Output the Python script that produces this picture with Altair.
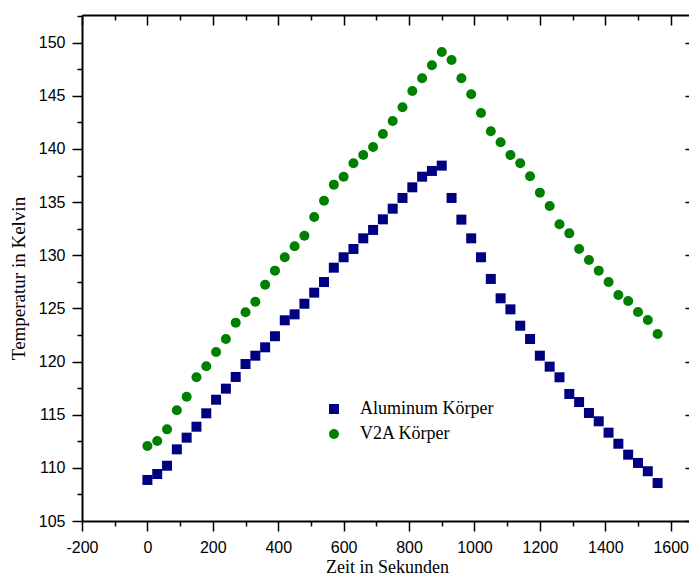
import altair as alt
import pandas as pd

# ---- data ----
times = [0, 30, 60, 90, 120, 150, 180, 210, 240, 270, 300, 330, 360, 390, 420,
         450, 480, 510, 540, 570, 600, 630, 660, 690, 720, 750, 780, 810, 840,
         870, 900, 930, 960, 990, 1020, 1050, 1080, 1110, 1140, 1170, 1200,
         1230, 1260, 1290, 1320, 1350, 1380, 1410, 1440, 1470, 1500, 1530, 1560]

alu = [108.86, 109.42, 110.20, 111.74, 112.84, 113.87, 115.13, 116.41, 117.45,
       118.55, 119.77, 120.55, 121.34, 122.38, 123.88, 124.44, 125.44, 126.48,
       127.48, 128.83, 129.81, 130.59, 131.59, 132.38, 133.38, 134.38, 135.39,
       136.39, 137.39, 137.93, 138.43, 135.39, 133.35, 131.59, 129.81, 127.77,
       125.95, 124.91, 123.37, 122.12, 120.55, 119.52, 118.52, 116.95, 116.19,
       115.16, 114.38, 113.31, 112.27, 111.24, 110.46, 109.68, 108.57]

v2a = [112.06, 112.53, 113.62, 115.41, 116.69, 118.52, 119.55, 120.90, 122.12,
       123.66, 124.63, 125.63, 127.23, 128.55, 129.81, 130.84, 131.84, 133.60,
       135.13, 136.64, 137.39, 138.65, 139.43, 140.18, 141.41, 142.63, 143.92,
       145.45, 146.65, 147.87, 149.12, 148.37, 146.65, 145.14, 143.38, 141.66,
       140.63, 139.43, 138.65, 137.43, 135.89, 134.63, 132.91, 132.06, 130.59,
       129.55, 128.55, 127.48, 126.26, 125.70, 124.66, 123.91, 122.59]

series_names = ["Aluminum Körper", "V2A Körper"]
series_colors = ["#000080", "#008000"]
series_shapes = ["square", "circle"]

x_major = [-200, 0, 200, 400, 600, 800, 1000, 1200, 1400, 1600]
x_minor = [-100, 100, 300, 500, 700, 900, 1100, 1300, 1500]
y_major = [105, 110, 115, 120, 125, 130, 135, 140, 145, 150]
y_minor = [107.5, 112.5, 117.5, 122.5, 127.5, 132.5, 137.5, 142.5, 147.5, 152.5]

df = pd.DataFrame({
    "t": times + times,
    "T": alu + v2a,
    "series": [series_names[0]] * len(times) + [series_names[1]] * len(times),
})

xs = alt.Scale(domain=[-200, 1656], nice=False, zero=False)
ys = alt.Scale(domain=[105, 152.6], nice=False, zero=False)

SANS = "Liberation Sans"
SERIF = "Liberation Serif"

base = alt.Chart(df)

legend = alt.Legend(
    orient="none", legendX=243, legendY=385, title=None,
    labelFont=SERIF, labelFontSize=18, labelColor="black",
    symbolSize=100, labelOffset=17, rowPadding=7, padding=0,
    symbolStrokeWidth=0,
)

points = base.mark_point(filled=True, size=100, opacity=1).encode(
    x=alt.X("t:Q", scale=xs, axis=alt.Axis(
        orient="bottom", values=x_major, tickSize=10, tickWidth=1.5,
        tickColor="black", domainColor="black", domainWidth=2,
        labelFont=SANS, labelFontSize=16, labelColor="black", labelPadding=8,
        labelFlush=False, labelOverlap=False, labelExpr="'' + datum.value",
        grid=False, title="Zeit in Sekunden", titleFont=SERIF,
        titleFontSize=18, titleFontWeight="normal", titleColor="black",
        titleX=305, titleY=51, titleBaseline="alphabetic", titleAlign="center")),
    y=alt.Y("T:Q", scale=ys, axis=alt.Axis(
        orient="left", values=y_major, tickSize=10, tickWidth=1.5,
        tickColor="black", domainColor="black", domainWidth=2,
        labelFont=SANS, labelFontSize=16, labelColor="black", labelPadding=7,
        labelFlush=False, labelOverlap=False, labelExpr="'' + datum.value",
        grid=False, title="Temperatur in Kelvin", titleFont=SERIF,
        titleFontSize=19, titleFontWeight="normal", titleColor="black",
        titleAngle=270, titleX=-58, titleY=263, titleBaseline="alphabetic",
        titleAlign="center")),
    color=alt.Color("series:N", scale=alt.Scale(domain=series_names, range=series_colors), legend=legend),
    shape=alt.Shape("series:N", scale=alt.Scale(domain=series_names, range=series_shapes), legend=legend),
)

minor = base.mark_point(opacity=0).encode(
    x=alt.X("t:Q", scale=xs, axis=alt.Axis(
        orient="bottom", values=x_minor, tickSize=5, tickWidth=1.5,
        tickColor="black", domain=False, labels=False, grid=False, title=None)),
    y=alt.Y("T:Q", scale=ys, axis=alt.Axis(
        orient="left", values=y_minor, tickSize=5, tickWidth=1.5,
        tickColor="black", domain=False, labels=False, grid=False, title=None)),
)

frame_top = base.mark_point(opacity=0).encode(
    x=alt.X("t:Q", scale=xs, axis=alt.Axis(
        orient="top", ticks=False, labels=False, grid=False, title=None,
        domainColor="black", domainWidth=2)),
    y=alt.Y("T:Q", scale=ys, axis=None),
)

top_major = base.mark_point(opacity=0).encode(
    x=alt.X("t:Q", scale=xs, axis=alt.Axis(
        orient="top", offset=-10, values=x_major, tickSize=10, tickWidth=1.5,
        tickColor="black", domain=False, labels=False, grid=False, title=None)),
    y=alt.Y("T:Q", scale=ys, axis=alt.Axis(
        orient="right", offset=-4, values=y_major, tickSize=4, tickWidth=1.5,
        tickColor="black", domain=False, labels=False, grid=False, title=None)),
)

top_minor = base.mark_point(opacity=0).encode(
    x=alt.X("t:Q", scale=xs, axis=alt.Axis(
        orient="top", offset=-5, values=x_minor, tickSize=5, tickWidth=1.5,
        tickColor="black", domain=False, labels=False, grid=False, title=None)),
    y=alt.Y("T:Q", scale=ys, axis=None),
)

chart = alt.layer(points, minor, frame_top, top_major, top_minor).resolve_axis(
    x="independent", y="independent"
).properties(
    width=607, height=506,
    padding={"left": 74, "top": 7, "right": 0, "bottom": 54},
    autosize="none",
    background="white",
).configure_view(stroke=None)

chart.save("out.html", embed_options={"renderer": "svg", "actions": False})
